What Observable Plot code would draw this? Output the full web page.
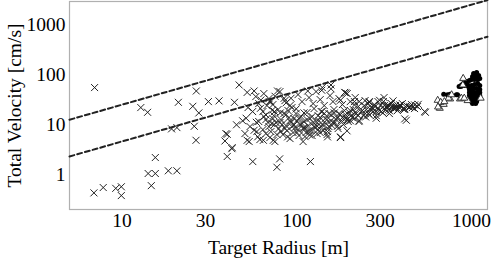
<!DOCTYPE html>
<html>
<head>
<meta charset="utf-8">
<script src="https://cdn.jsdelivr.net/npm/d3@7"></script>
<script src="https://cdn.jsdelivr.net/npm/@observablehq/plot@0.6"></script>
<style>
  html, body { margin: 0; padding: 0; background: #fff; }
  #chart { width: 491px; height: 258px; }
</style>
</head>
<body>
<div id="chart"></div>
<script>
// Axis ticks
const xTicks = [10, 30, 100, 300, 1000];
const yTicks = [1, 10, 100, 1000];
const xDomain = [5, 1236];
const yDomain = [0.2, 2900];

// Reference (dashed) lines: endpoints
const lineRadius = [5, 1236];
const lineUpperV = [12.5, 3090];
const lineLowerV = [2.3, 570];

// Cross markers: radius [m], velocity [cm/s]
const crossRadius = [
  6.96, 12.8, 14.0, 21, 19.2, 20.6, 15.5, 14.1, 15.5, 18.4, 20.6, 14.7, 6.9, 7.8, 9.2, 9.9, 9.9,
  26.5, 38.8, 40, 40, 42.7, 52, 56, 79.8, 77, 119.7, 178, 194,
  46.8, 52, 57, 26.6, 25.4, 27.5, 31.2, 35.9, 44, 25.9, 39.3, 42.5,
  45.2, 49, 51.3, 52.6, 55.9, 62, 66.6, 69.6, 57, 59.8, 53.4, 66.6, 64.4, 73.4, 58.7, 74.6,
  157, 191, 178, 115.6, 139, 75.1, 84.7, 86.9, 72.3, 256, 214, 80.5, 99.3, 110, 138, 164, 191, 227, 248,
  74.4, 81, 96.6, 110, 131, 150, 171, 203, 88.6, 118.6, 150, 178,
  260, 298, 316, 356, 390, 443, 496, 545, 424, 273, 327, 366, 406, 459, 285, 311, 340, 261, 285,
  77.6, 92.7, 140, 157, 188, 214, 246, 292, 333, 366, 415, 473, 540, 415, 62.3, 71,
  64.0, 66.6, 69.3, 71.1, 73.9, 76.0, 78.1, 79.0, 81.2, 83.4, 84.4, 86.8, 87.9, 90.3, 92.7, 93.9,
  95.2, 97.7, 99.0, 100.3, 103.0, 104.3, 105.8, 64.0, 67.5, 72.0, 77.0, 82.3, 89.1, 96.4, 101.7,
  108.7, 110.0, 113, 114.5, 116.1, 119.1, 120.8, 124.1, 125.6, 127.3, 130.7, 132.5, 134.2, 138,
  139.8, 141.7, 145.5, 147, 151, 152.9, 157, 159, 163.3, 165.5, 170.2, 172.5, 177, 180, 184.9,
  187.2, 192, 197.2, 199.7, 205, 111.5, 122.4, 136.2, 149,
  210.5, 213.2, 219, 224.9, 227.8, 234, 240.3, 243.4, 250, 256.8, 260.1, 267, 274.2, 277.7, 285,
  292.7, 300.6, 305, 313.2, 321.5, 330.2, 339.0, 348, 357.4, 367, 376.8, 386.9, 402.2, 413, 425,
  442, 454, 472.4, 491.4,
  58.3, 60.6, 64.8, 69.3, 73.0, 80.1, 85.6, 91.5, 101.7, 107.2, 117.6, 124.1, 129, 136.2, 143.6,
  155, 161.2, 174.6, 182.4, 194.5, 202.4, 216.1, 227.8,
  50.5, 54.0, 59.1, 61.5, 70.2, 75.0, 91.5, 108.7,
  80.1, 85.6, 91.5, 93.9, 100.3, 103.0, 107.2, 111.5, 114.5, 117.6, 122.4, 125.6, 129, 132.5,
  136.2, 139.8, 143.6, 149, 152.9, 157, 161.2, 168, 174.6, 182.4, 189.7, 194.5, 202.4, 207.7,
  216.1, 224.9, 237.1, 246.7, 263.5, 281.2, 296.7, 317.3, 334.5, 352.6, 372, 392,
  86.8, 73.0, 68.4, 64.8, 60.6
];
const crossVelocity = [
  55, 21.9, 17.6, 27.9, 8.2, 8.7, 2.19, 1.05, 1.05, 1.19, 1.19, 0.60, 0.43, 0.55, 0.53, 0.57, 0.38,
  4.85, 4.7, 6.4, 2.3, 3.46, 4.85, 1.82, 2.06, 1.4, 1.82, 5.67, 7.5,
  62, 44, 47, 47, 23.2, 17.1, 28.8, 29.8, 27.9, 9.25, 6.6, 3.3,
  9.9, 11.9, 13.4, 21.9, 18.2, 21.2, 15.6, 28.8, 7.7, 5.7, 4.57, 6.6, 4.85, 4.85, 11.1, 18.2,
  62, 43, 30.6, 47, 48.6, 36.8, 33.6, 27.2, 19.3, 26.3, 24.7, 17.1, 20.6, 17.1, 18.2, 17.1, 13.4, 11.5, 14.2,
  9.9, 7.24, 9.9, 8.7, 9.25, 7.24, 9.25, 11.9, 5.67, 6.2, 5.67, 5.5,
  27.9, 30.6, 34.7, 29.8, 24.7, 23.2, 25.4, 17.6, 12.2, 21.2, 23.2, 21.9, 20.6, 21.9, 18.2, 17.1, 18.8, 15.6, 13.4,
  47, 33.6, 55, 52, 44, 28.8, 30.2, 28.8, 24.7, 21.2, 20.6, 24.7, 18.2, 13.0, 31, 28.8,
  18.2, 12.6, 9.12, 7.24, 15.1, 11.0, 20.0, 8.32, 12.6, 6.31, 16.6, 9.55, 7.59, 13.8, 11.0, 21.9,
  6.92, 8.71, 16.6, 12.0, 6.03, 10.0, 14.5, 7.94, 24.0, 10.5, 6.31, 10.0, 19.1, 13.2, 7.94,
  8.32, 11.5, 6.92, 17.4, 9.55, 13.2, 7.59, 11.0, 20.9, 8.71, 6.61, 15.1, 12.0, 9.12,
  18.2, 7.59, 13.2, 10.5, 8.32, 16.6, 12.0, 9.55, 20.0, 11.0, 13.8, 8.32, 15.8, 12.0, 10.0,
  19.1, 13.8, 11.5, 17.4, 15.1, 5.75, 6.03, 6.92, 6.31,
  20.0, 13.2, 16.6, 22.9, 12.0, 18.2, 15.1, 24.0, 20.0, 16.6, 28.8, 21.9, 18.2, 25.1, 15.1,
  20.9, 24.0, 18.2, 28.8, 20.0, 22.9, 16.6, 26.3, 20.9, 24.0, 19.1, 21.9, 26.3, 20.0, 24.0,
  21.9, 25.1, 20.9, 22.9,
  36.3, 26.3, 41.7, 33.1, 25.1, 45.7, 30.2, 24.0, 39.8, 28.8, 34.7, 26.3, 45.7, 31.6, 24.0,
  38.0, 28.8, 33.1, 25.1, 41.7, 28.8, 34.7, 28.8,
  6.61, 9.12, 7.24, 5.01, 5.50, 4.57, 5.25, 4.57,
  11.0, 8.32, 12.0, 9.12, 6.92, 13.2, 10.5, 8.32, 12.6, 7.59, 14.5, 9.12, 11.5, 7.94,
  13.8, 10.0, 16.6, 12.6, 9.12, 15.8, 11.0, 12.6, 16.6, 13.8, 15.8, 12.6, 19.1, 13.8,
  17.4, 15.1, 19.1, 16.6, 20.0, 22.9, 19.1, 24.0, 20.0, 22.9, 21.9, 24.0,
  15.8, 13.2, 11.0, 14.5, 11.5
];

// Open triangles
const triRadius = [659, 694, 641, 667, 644, 755, 860, 893, 897, 740, 700, 770, 875, 950, 1130, 910];
const triVelocity = [21.2, 25.4, 30.6, 27.9, 22.5, 32.6, 32.6, 62, 84, 33.8, 28.8, 39.5, 33.8, 30.2, 33.8, 33.8];

// Filled circles
const dotRadius = [
  694, 730, 755, 820, 833, 850, 878,
  1029, 1071, 1015, 1057, 1100, 1002, 1042, 1086, 1116,
  870, 899, 936, 974, 911, 949,
  961, 1002, 1042, 1086, 1116, 974, 1002, 1029, 1071, 1116,
  974, 1002, 1042, 1086, 1116, 974, 1002, 1029, 1071, 1116,
  987, 1015, 1042, 1086, 1002, 1029, 1071, 1015, 1057
];
const dotVelocity = [
  40.4, 39.5, 40.4, 39.5, 39.3, 57.5, 62,
  105, 110, 91.2, 91.2, 95.5, 79.4, 79.4, 79.4, 83.2,
  58.0, 66.1, 72.4, 75.9, 60.3, 63.1,
  57.5, 60.3, 63.1, 66.1, 60.3, 50.1, 50.1, 52.5, 52.5, 50.1,
  43.7, 43.7, 43.7, 43.7, 43.7, 38.0, 38.0, 38.0, 38.0, 38.0,
  33.1, 33.1, 33.1, 33.1, 28.8, 28.8, 28.8, 26.3, 26.3
];

const crosses = crossRadius.map((r, i) => ({r, v: crossVelocity[i]}));
const tris = triRadius.map((r, i) => ({r, v: triVelocity[i]}));
const dots = dotRadius.map((r, i) => ({r, v: dotVelocity[i]}));
const upper = lineRadius.map((r, i) => ({r, v: lineUpperV[i]}));
const lower = lineRadius.map((r, i) => ({r, v: lineLowerV[i]}));

const symbolX = {
  draw(ctx, size) {
    const h = Math.sqrt(size / Math.PI);
    ctx.moveTo(-h, -h); ctx.lineTo(h, h);
    ctx.moveTo(h, -h); ctx.lineTo(-h, h);
  }
};

const FONT = "'Liberation Serif', 'DejaVu Serif', serif";

const chart = Plot.plot({
  width: 491,
  height: 258,
  marginLeft: 69,
  marginRight: 4,
  marginTop: 1,
  marginBottom: 49,
  style: {fontFamily: FONT, fontSize: "19px", color: "#000", background: "#fff"},
  x: {type: "log", domain: xDomain},
  y: {type: "log", domain: yDomain},
  marks: [
    Plot.frame({stroke: "#b0b0b0", strokeWidth: 1.2}),
    Plot.axisX({ticks: xTicks, tickFormat: d => String(d), tickSize: 0, tickPadding: 4,
      fontSize: 19.5, fontFamily: FONT, fill: "#000",
      label: "Target Radius [m]", labelAnchor: "center", labelOffset: 44, labelArrow: false}),
    Plot.axisY({ticks: yTicks, tickFormat: d => String(d), tickSize: 0, tickPadding: 4,
      fontSize: 19.5, fontFamily: FONT, fill: "#000",
      label: "Total Velocity [cm/s]", labelAnchor: "center", labelOffset: 62, labelArrow: false}),
    Plot.line(upper, {x: "r", y: "v", stroke: "#222", strokeWidth: 2, strokeDasharray: "5,3"}),
    Plot.line(lower, {x: "r", y: "v", stroke: "#222", strokeWidth: 2, strokeDasharray: "5,3"}),
    Plot.dot(crosses, {x: "r", y: "v", symbol: symbolX, r: 3.5, stroke: "#222", strokeWidth: 1, fill: "none"}),
    Plot.dot(dots, {x: "r", y: "v", symbol: "circle", r: 2.5, fill: "#000", stroke: "none"}),
    Plot.dot(tris, {x: "r", y: "v", symbol: "triangle", r: 2.6, stroke: "#222", strokeWidth: 0.9, fill: "#fff"})
  ]
});
document.getElementById("chart").appendChild(chart);
</script>
</body>
</html>
